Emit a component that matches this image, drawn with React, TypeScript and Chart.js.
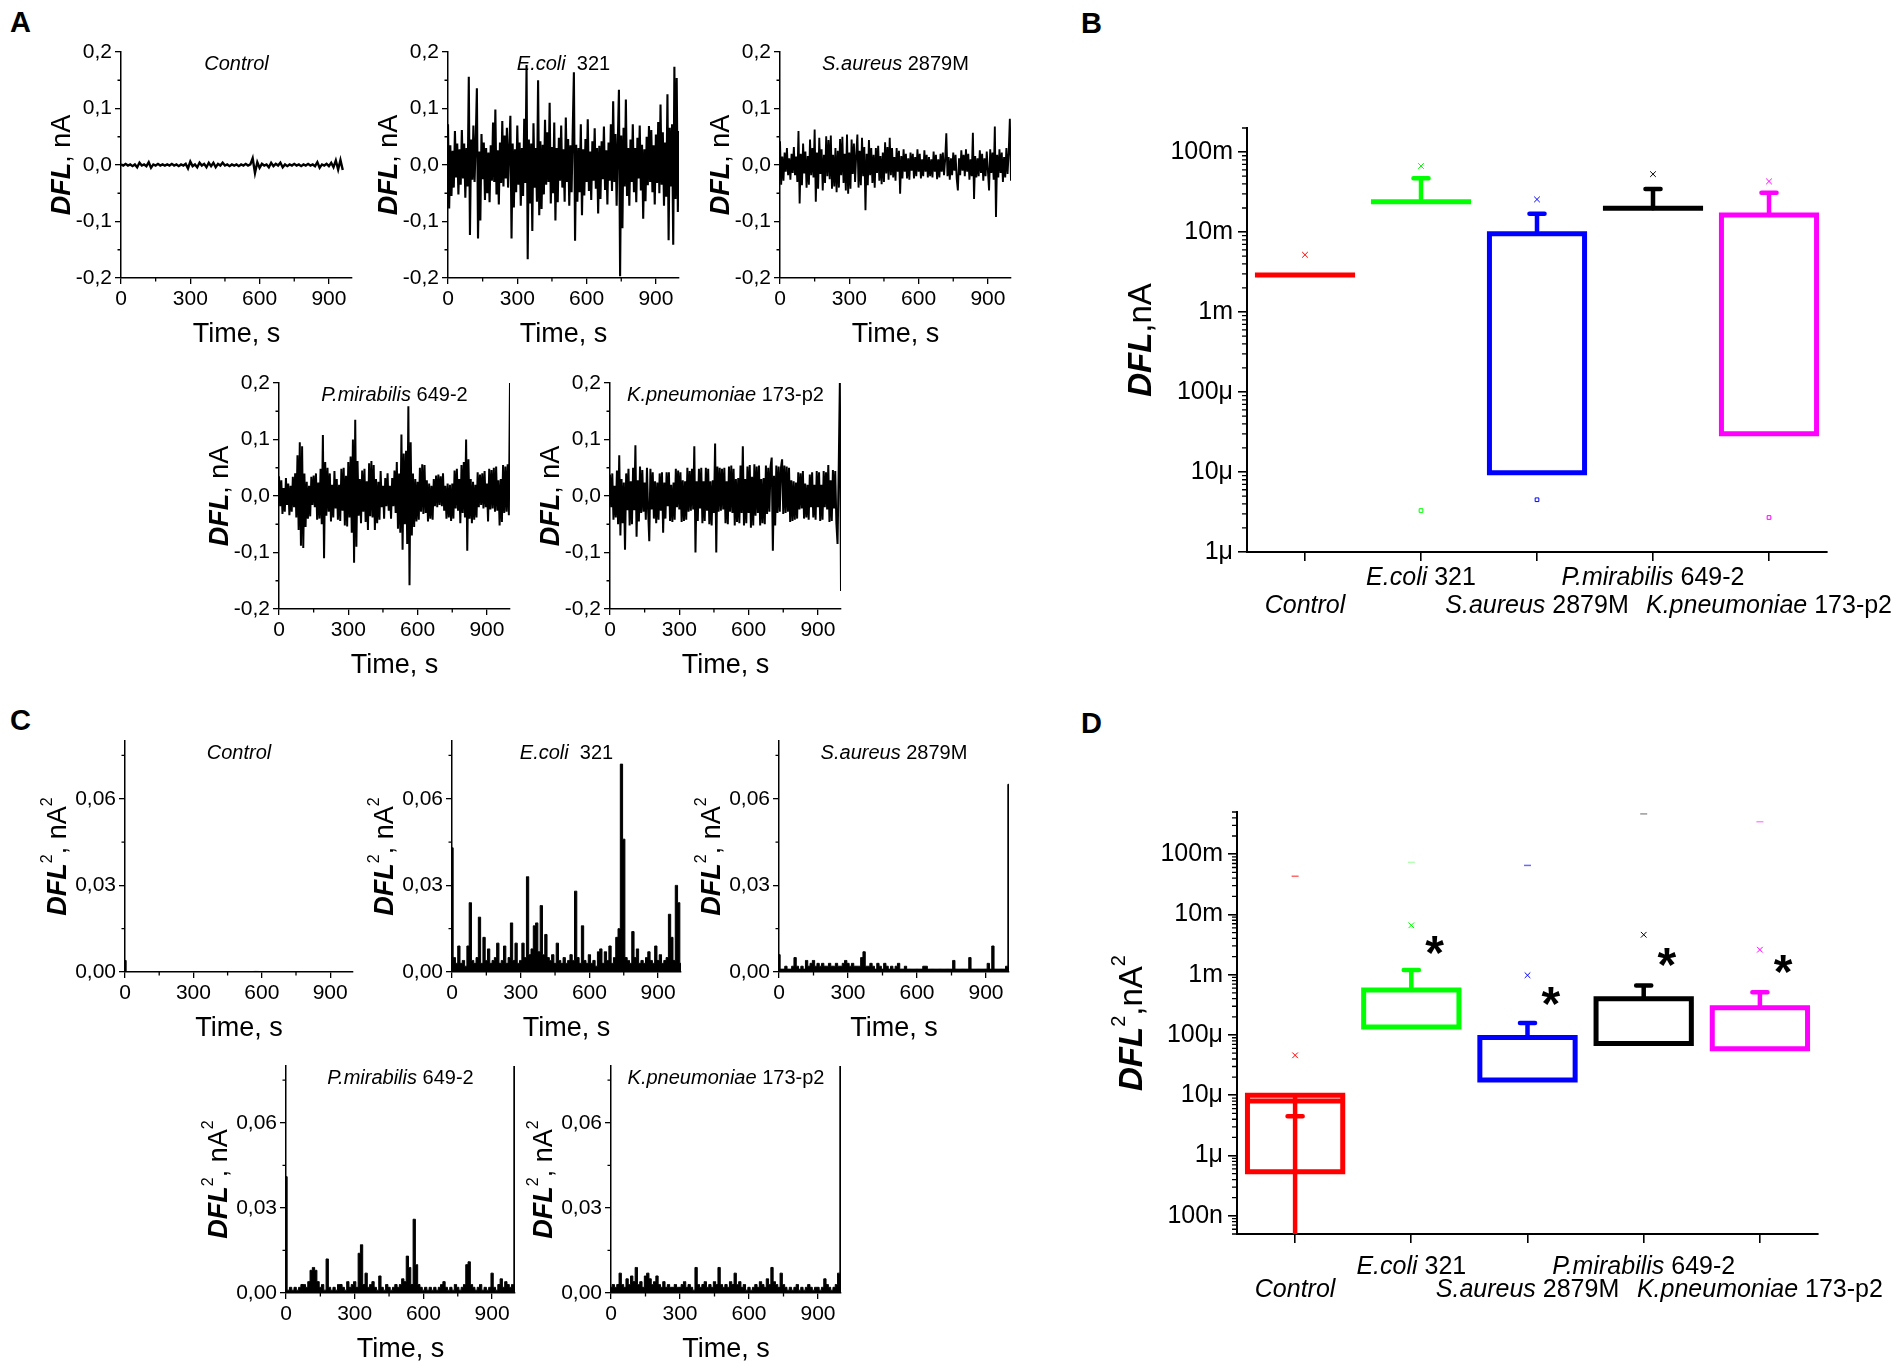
import React, { useEffect, useRef } from 'react';
import { Chart, registerables } from 'chart.js';

Chart.register(...registerables);

const FF = "'Liberation Sans', Arial, Helvetica, sans-serif";
Chart.defaults.font.family = FF;
Chart.defaults.color = '#000';

// ---------------- shared labels ----------------
const species = ['Control', 'E.coli', 'S.aureus', 'P.mirabilis', 'K.pneumoniae'];
const strains = ['', '321', '2879M', '649-2', '173-p2'];
const panelTitleStrains = ['', '  321', ' 2879M', ' 649-2', ' 173-p2'];
const timeAxisTitle = 'Time, s';
const timeTicks = [0, 300, 600, 900];
const timeTickLabels = ['0', '300', '600', '900'];
const timeMinorTicks = [150, 450, 750];

// ---------------- Panel A: DFL traces (values in 0.001 nA) ----------------
const dflTicks = [-0.2, -0.1, 0, 0.1, 0.2];
const dflTickLabels = ['-0,2', '-0,1', '0,0', '0,1', '0,2'];
const dflMinorTicks = [-0.15, -0.05, 0.05, 0.15];
const dflControlStep = 10; // s between samples
const dflStep = 5;
const dflControl = [
  1, -1, 2, -1, 1, -2, 1, -4, 4, -1,
  1, -2, 5, -5, 1, -1, 2, -1, 1, -1,
  1, -1, 2, -1, 1, -2, 1, -1, 2, -6,
  6, -2, 1, -4, 4, -1, 2, -4, 4, -2,
  4, -4, 2, -1, 4, -1, 1, -2, 1, -1,
  1, -2, 1, -1, 2, -1, 1, 12, -14, 5,
  -5, 2, -1, 1, -4, 4, -2, 2, -1, 4,
  -4, 1, -2, 1, -1, 2, -1, 1, -2, 1,
  -1, 2, -1, 1, -2, 5, -5, 1, -1, 2,
  -2, 4, -4, 8, -8, 9, -9,
];
const dflEcoli = [
  72, -77, 35, -55, 25, -40, 60, -22, 38, -52,
  28, -35, 62, -24, 38, -58, 30, -38, 156, -124,
  45, -26, 70, -30, 42, 136, -130, 24, -98, 55,
  -25, 40, -62, 30, -50, 22, -66, 35, -28, 75,
  -30, 98, -52, 26, -70, 40, -32, 78, -38, 52,
  -24, 66, -40, 30, 87, -130, 38, -75, 28, -48,
  70, -35, 40, -72, 30, -55, 82, -32, 177, -167,
  45, -68, 38, -117, 74, -40, 30, -65, 150, -89,
  42, -78, 36, -52, 80, -35, 58, -30, 110, -68,
  32, -50, 75, -98, 30, -66, 48, -28, 70, -40,
  28, -65, 84, -30, 46, -72, 35, -48, 62, 164,
  -134, 36, -65, 30, -48, 72, -89, 28, -54, 46,
  -30, 81, -46, 24, -62, 42, -28, 65, -42, 30,
  -86, 34, -60, 42, -25, 68, -44, 26, -70, 40,
  -28, 72, -46, 113, -30, 55, -72, 40, 133, -197,
  52, -112, 66, -38, 116, -55, 30, -72, 45, -30,
  72, -48, 30, -66, 48, -24, 70, -45, 36, -95,
  28, -64, 50, -36, 69, -30, 62, -48, 35, -70,
  54, -32, 76, -50, 107, -35, 58, -72, 40, -56,
  125, -133, 66, -38, 72, -141, 174, -60, 154, -83,
  60,
];
const dflSaureus = [
  42, -35, 15, -28, 22, -12, 30, -18, 12, -26,
  20, -14, 32, -18, 15, -30, 60, -68, 20, -36,
  38, -15, 24, -40, 16, -35, 45, -18, 30, -22,
  63, -65, 22, -42, 48, -16, 28, -45, 18, -32,
  51, -20, 44, -25, 52, -42, 18, -38, 30, -48,
  25, -40, 46, -18, 50, -32, 20, -45, 54, -51,
  22, -42, 45, -16, 38, -30, 18, 54, -40, 25,
  -36, 48, -20, 32, -80, 20, -36, 44, -18, 30,
  -32, 18, -40, 30, -14, 34, -28, 16, -34, 22,
  -30, 40, -15, 32, -26, 48, -18, 30, -22, 14,
  -28, 30, -12, 25, -51, 16, -24, 28, -12, 20,
  -24, 12, -26, 22, -10, 20, -24, 14, -20, 28,
  -12, 20, -24, 10, -20, 26, -12, 18, -22, 14,
  -20, 10, -22, 24, -12, 18, -25, 10, -22, 20,
  -12, 22, -18, 10, 56, -20, 14, -26, 12, -18,
  22, -10, 18, -24, -45, 12, -18, 26, -10, 18,
  -20, 28, -12, 20, -26, 10, -20, 57, -60, 16,
  -22, 12, -20, 26, -14, 20, -28, 12, -20, 24,
  -10, -45, 28, -14, 22, -26, 68, -92, 18, -22,
  28, -14, 22, -30, 14, -22, 30, -16, 22, 82,
  -28,
];
const dflPmirabilis = [
  35, -18, 28, -32, 14, -28, 32, -16, 22, -34,
  18, -28, 34, -20, 40, -38, 72, -60, 95, -88,
  88, -92, 40, -55, 25, -40, 18, -36, 34, -16,
  36, -20, 40, -42, 24, -40, 48, -50, 108, -110,
  60, -35, 50, -28, 40, -45, 20, -38, 44, -22,
  30, -42, 20, -44, 48, -26, 50, -52, 36, -54,
  60, -38, 70, -65, 100, -118, 135, -90, 62, -35,
  30, -48, 45, -28, 48, -46, 26, -60, 58, -36,
  62, -38, 55, -60, 30, -48, 25, -42, 44, -20,
  18, -40, 32, -18, 40, -26, 18, -40, 32, -18,
  45, -30, 60, -58, 40, -65, 109, -95, 75, -50,
  80, -85, 159, -158, 95, -70, 40, -55, 30, -45,
  25, -42, 50, -28, 56, -32, 55, -30, 28, -45,
  22, -40, 18, -42, 30, -18, 36, -20, 38, -16,
  35, -18, 40, -26, 18, -40, 22, -38, 20, -44,
  22, -40, 45, -22, 48, -26, 30, -48, 55, -30,
  60, -38, 100, -97, 65, -40, 30, -48, 25, -42,
  20, -38, 42, -20, 38, -16, 40, -22, 44, -20,
  22, -45, 48, -24, 46, -22, 50, -28, 52, -26,
  28, -52, 30, -46, 55, -30, 52, -28, 56, -34,
  200,
];
const dflKpneumoniae = [
  38, -20, 40, -42, 18, -38, 45, -50, 72, -70,
  30, -48, 24, -95, 40, -25, 48, -52, 26, -50,
  50, -25, 90, -72, 28, -45, 52, -30, 46, -28,
  24, -42, 50, -26, -80, 48, -24, 42, -40, 26,
  -48, 24, -42, 40, -26, 42, -65, 24, -40, 42,
  -18, 42, -44, 20, -46, 24, -42, 48, -20, 45,
  -24, 42, -46, 28, -44, 26, -42, 50, -28, 44,
  -26, 48, -24, 88, -100, 26, -44, 48, -22, 50,
  -48, 26, -44, 50, -26, 48, -50, 26, -52, 28,
  -30, 93, -100, 52, -28, 50, -26, 48, -24, 50,
  -48, 26, -50, 52, -28, 54, -30, 48, -52, 30,
  -46, 32, -48, 54, -30, 88, -52, 30, -48, 52,
  -30, 55, -56, 34, -52, 56, -35, 52, -30, 54,
  -52, 30, -48, 32, -50, 54, -32, 50, -28, 52,
  68, -97, 36, -52, 54, -30, 52, -28, 50, 65,
  -32, 54, -30, 52, -28, 50, -46, 28, -44, 26,
  -42, 24, -40, 42, -24, 40, -22, 44, -40, 22,
  -38, 20, -42, 38, -20, 42, -38, 20, -42, 44,
  -20, 42, -44, 20, -42, 44, -20, 42, -24, 55,
  -46, 28, -44, 46, -22, 44, -48, -85, 46, 200,
  -168,
];

// ---------------- Panel C: DFL^2 traces (values in 0.001 nA^2) ----------------
const dfl2Ticks = [0, 0.03, 0.06];
const dfl2TickLabels = ['0,00', '0,03', '0,06'];
const dfl2MinorTicks = [0.015, 0.045, 0.075];
const dfl2ControlStep = 10;
const dfl2Step = 10;
const dfl2Control = [
  4, 0, 0, 0, 0, 0, 0, 0, 0, 0,
  0, 0, 0, 0, 0, 0, 0, 0, 0, 0,
  0, 0, 0, 0, 0, 0, 0, 0, 0, 0.1,
  0.1, 0, 0, 0, 0, 0, 0, 0, 0, 0,
  0, 0, 0, 0, 0, 0, 0, 0, 0, 0,
  0, 0, 0, 0, 0, 0, 0, 0.2, 0.2, 0,
  0, 0, 0, 0, 0, 0, 0, 0, 0, 0,
  0, 0, 0, 0, 0, 0, 0, 0, 0, 0,
  0, 0, 0, 0, 0, 0, 0, 0, 0, 0,
  0, 0, 0, 0.1, 0.1, 0.1, 0.1,
];
const dfl2Ecoli = [
  43, 5, 3, 9, 3, 4, 2, 9, 24, 4,
  3, 5, 19, 3, 12, 4, 8, 3, 4, 5,
  10, 3, 4, 9, 3, 5, 17, 4, 10, 3,
  4, 10, 5, 33, 6, 8, 16, 17, 7, 23,
  6, 13, 5, 4, 6, 3, 10, 4, 3, 5,
  3, 4, 6, 4, 28, 5, 3, 16, 4, 3,
  6, 3, 4, 2, 7, 8, 3, 7, 4, 9,
  3, 5, 12, 15, 72, 46, 5, 4, 3, 14,
  5, 8, 3, 4, 3, 5, 7, 4, 3, 9,
  4, 6, 3, 4, 5, 20, 12, 4, 30, 24,
  3,
];
const dfl2Saureus = [
  6, 1, 1, 2, 1, 1, 2, 5, 2, 1,
  2, 1, 4, 2, 3, 4, 2, 3, 2, 3,
  2, 2, 3, 2, 2, 3, 2, 2, 3, 4,
  3, 2, 3, 2, 2, 2, 5, 7, 2, 2,
  3, 2, 1, 3, 2, 1, 3, 2, 1, 2,
  1, 2, 3, 1, 1, 2, 1, 1, 1, 1,
  1, 1, 1, 2, 2, 1, 1, 1, 1, 1,
  1, 1, 1, 1, 1, 1, 4, 1, 1, 1,
  1, 1, 1, 5, 1, 1, 1, 1, 1, 1,
  1, 3, 1, 9, 1, 1, 1, 1, 1, 2,
  65,
];
const dfl2Pmirabilis = [
  41, 1, 2, 1, 2, 1, 2, 3, 3, 2,
  4, 8, 9, 8, 4, 2, 3, 1, 12, 2,
  1, 2, 1, 3, 3, 2, 1, 4, 2, 3,
  4, 2, 14, 17, 3, 7, 2, 3, 4, 2,
  1, 6, 2, 1, 3, 2, 1, 2, 3, 2,
  3, 5, 4, 13, 9, 3, 26, 10, 3, 2,
  1, 2, 1, 2, 1, 2, 1, 2, 3, 4,
  2, 1, 2, 1, 3, 2, 1, 2, 3, 10,
  11, 3, 2, 1, 2, 3, 1, 2, 1, 2,
  7, 2, 1, 3, 5, 2, 4, 3, 2, 3,
  90,
];
const dfl2Kpneumoniae = [
  2, 3, 2, 3, 7, 3, 2, 5, 3, 6,
  4, 9, 3, 4, 2, 6, 7, 5, 3, 4,
  6, 3, 2, 4, 2, 3, 2, 2, 3, 2,
  2, 3, 4, 2, 3, 2, 1, 9, 3, 2,
  3, 4, 2, 3, 2, 4, 3, 9, 3, 2,
  3, 2, 4, 3, 7, 3, 4, 2, 3, 1,
  2, 1, 2, 3, 2, 4, 3, 2, 5, 3,
  9, 4, 3, 2, 7, 3, 2, 1, 2, 1,
  2, 3, 1, 2, 1, 2, 3, 2, 1, 2,
  2, 1, 2, 5, 3, 2, 1, 2, 3, 7,
  90,
];

// ---------------- Panels B and D: box statistics ----------------
const groupColors = ['#ff0000', '#00ff00', '#0000ff', '#000000', '#ff00ff'];
const groupPaleColors = ['#ff6a6a', '#b4ffb4', '#6a6aff', '#9a9a9a', '#ff8cff'];
const categoryRow = [1, 0, 1, 0, 1]; // 0 = upper label row, 1 = lower label row

const bTicks = [1e-6, 1e-5, 1e-4, 1e-3, 1e-2, 1e-1];
const bTickLabels = ['1μ', '10μ', '100μ', '1m', '10m', '100m'];
const bBoxLow = [2.9e-3, 24e-3, 9.8e-6, 19.8e-3, 30e-6];
const bBoxHigh = [2.9e-3, 24e-3, 9.5e-3, 19.8e-3, 16.4e-3];
const bWhiskerHigh = [null, 47e-3, 17e-3, 34.5e-3, 31e-3];
const bMaxMarker = [5.2e-3, 67e-3, 25.6e-3, 53e-3, 43e-3];
const bMinMarker = [null, 3.3e-6, 4.5e-6, null, 2.7e-6];

const dTicks = [1e-7, 1e-6, 1e-5, 1e-4, 1e-3, 1e-2, 1e-1];
const dTickLabels = ['100n', '1μ', '10μ', '100μ', '1m', '10m', '100m'];
const dBoxLow = [0.54e-6, 136e-6, 18e-6, 72e-6, 59e-6];
const dBoxHigh = [10e-6, 556e-6, 91e-6, 400e-6, 284e-6];
const dMedian = [8e-6, null, null, null, null];
const dWhiskerHigh = [null, 1.2e-3, 158e-6, 660e-6, 513e-6];
const dWhiskerLow = [3e-8, null, null, null, null];
const dMean = [4.5e-6, null, null, null, null];
const dMaxMarker = [46e-6, 6.6e-3, 0.98e-3, 4.6e-3, 2.6e-3];
const dTopDash = [43e-3, 73e-3, 65e-3, 465e-3, 345e-3];
const dAsterisk = [null, 3.1e-3, 0.44e-3, 1.95e-3, 1.5e-3];

// ---------------- drawing helpers ----------------
type Seg = { t: string; f: string; dy?: number };
const font = (size: number, italic = false, bold = false) =>
  `${italic ? 'italic ' : ''}${bold ? 'bold ' : ''}${size}px ${FF}`;

function drawSegs(ctx: CanvasRenderingContext2D, segs: Seg[], x: number, y: number, rot = 0) {
  ctx.save();
  ctx.translate(x, y);
  if (rot) ctx.rotate(rot);
  ctx.textBaseline = 'middle';
  ctx.textAlign = 'left';
  ctx.fillStyle = '#000';
  const widths = segs.map((s) => {
    ctx.font = s.f;
    return ctx.measureText(s.t).width;
  });
  const total = widths.reduce((a, b) => a + b, 0);
  let cx = -total / 2;
  segs.forEach((s, i) => {
    ctx.font = s.f;
    ctx.fillText(s.t, cx, s.dy ?? 0);
    cx += widths[i];
  });
  ctx.restore();
}

function minorTicks(chart: any, axis: 'x' | 'y', values: number[], len: number, width: number) {
  const s = chart.scales[axis];
  const a = chart.chartArea;
  const ctx = chart.ctx as CanvasRenderingContext2D;
  ctx.save();
  ctx.strokeStyle = '#000';
  ctx.lineWidth = width;
  ctx.beginPath();
  values.forEach((v) => {
    const p = s.getPixelForValue(v);
    if (axis === 'x') {
      ctx.moveTo(p, a.bottom);
      ctx.lineTo(p, a.bottom + len);
    } else {
      ctx.moveTo(a.left, p);
      ctx.lineTo(a.left - len, p);
    }
  });
  ctx.stroke();
  ctx.restore();
}

function logMinors(min: number, max: number) {
  const out: number[] = [];
  for (let d = Math.floor(Math.log10(min)); d <= Math.ceil(Math.log10(max)); d++) {
    for (let m = 2; m <= 9; m++) {
      const v = m * Math.pow(10, d);
      if (v >= min * 0.999 && v <= max * 1.001) out.push(v);
    }
  }
  return out;
}

type Box = { x: number; y: number; w: number; h: number };

function PlotCanvas({ box, make }: { box: Box; make: (c: HTMLCanvasElement) => Chart }) {
  const ref = useRef<HTMLCanvasElement | null>(null);
  useEffect(() => {
    const chart = make(ref.current as HTMLCanvasElement);
    return () => chart.destroy();
  }, []);
  return (
    <canvas
      ref={ref}
      width={box.w}
      height={box.h}
      style={{ position: 'absolute', left: box.x, top: box.y, width: box.w, height: box.h }}
    />
  );
}

// ---------------- small trace panels (A and C) ----------------
const TP = { l: 100, t: 16, r: 14, b: 76 };
type TraceSpec = {
  rect: number[];
  values: number[];
  step: number;
  unit: number;
  fill: boolean;
  lineWidth: number;
  yMin: number;
  yMax: number;
  yTicks: number[];
  yLabels: string[];
  yMinor: number[];
  title: Seg[];
  yTitle: Seg[];
  yTitleDx: number;
};

function traceBox(rect: number[]): Box {
  const [L, T, R, B] = rect;
  return { x: L - TP.l, y: T - TP.t, w: R - L + TP.l + TP.r, h: B - T + TP.t + TP.b };
}

const axisGrid = { drawOnChartArea: false, tickLength: 6, color: '#000', lineWidth: 1.3 };
const axisBorder = { display: true, color: '#000', width: 1.5 };

function makeTrace(spec: TraceSpec) {
  return (canvas: HTMLCanvasElement) => {
    const pts = spec.values.map((v, i) => ({ x: i * spec.step, y: v * spec.unit }));
    const decor = {
      id: 'traceDecor',
      afterDraw(chart: any) {
        const ctx = chart.ctx;
        const a = chart.chartArea;
        minorTicks(chart, 'x', timeMinorTicks, 3.5, 1.3);
        minorTicks(chart, 'y', spec.yMinor, 3.5, 1.3);
        drawSegs(ctx, spec.title, (a.left + a.right) / 2, a.top + 12);
        drawSegs(ctx, [{ t: timeAxisTitle, f: font(27) }], (a.left + a.right) / 2, a.bottom + 57);
        drawSegs(ctx, spec.yTitle, a.left - spec.yTitleDx, (a.top + a.bottom) / 2, -Math.PI / 2);
      },
    };
    return new Chart(canvas, {
      type: 'line',
      data: {
        datasets: [
          {
            data: pts,
            borderColor: '#000',
            backgroundColor: '#000',
            borderWidth: spec.lineWidth,
            pointRadius: 0,
            tension: 0,
            stepped: spec.fill ? 'middle' : false,
            fill: spec.fill ? 'origin' : false,
          },
        ],
      },
      options: {
        responsive: false,
        maintainAspectRatio: false,
        animation: false,
        events: [],
        layout: { padding: { top: TP.t, right: TP.r, left: 0, bottom: 0 } },
        plugins: { legend: { display: false }, tooltip: { enabled: false } },
        scales: {
          x: {
            type: 'linear',
            min: 0,
            max: 1000,
            afterBuildTicks: (s: any) => {
              s.ticks = timeTicks.map((v) => ({ value: v }));
            },
            afterFit: (s: any) => {
              s.height = TP.b;
            },
            ticks: {
              callback: (_v: any, i: number) => timeTickLabels[i],
              font: { family: FF, size: 21 },
              color: '#000',
              padding: 3,
              maxRotation: 0,
              autoSkip: false,
            },
            grid: axisGrid,
            border: axisBorder,
          },
          y: {
            type: 'linear',
            min: spec.yMin,
            max: spec.yMax,
            afterBuildTicks: (s: any) => {
              s.ticks = spec.yTicks.map((v) => ({ value: v }));
            },
            afterFit: (s: any) => {
              s.width = TP.l;
            },
            ticks: {
              callback: (_v: any, i: number) => spec.yLabels[i],
              font: { family: FF, size: 21 },
              color: '#000',
              padding: 3,
              autoSkip: false,
            },
            grid: axisGrid,
            border: axisBorder,
          },
        },
      } as any,
      plugins: [decor],
    } as any);
  };
}

const aRects = [
  [121, 52, 352, 278],
  [448, 52, 679, 278],
  [780, 52, 1011, 278],
  [279, 383, 510, 609],
  [610, 383, 841, 609],
];
const cRects = [
  [125, 741, 353, 972],
  [452, 741, 681, 972],
  [779, 741, 1009, 972],
  [286, 1066, 515, 1293],
  [611, 1066, 841, 1293],
];
const aTraces = [dflControl, dflEcoli, dflSaureus, dflPmirabilis, dflKpneumoniae];
const aSteps = [dflControlStep, dflStep, dflStep, dflStep, dflStep];
const aLineWidths = [2.4, 2.1, 1.9, 2.0, 2.0];
const cTraces = [dfl2Control, dfl2Ecoli, dfl2Saureus, dfl2Pmirabilis, dfl2Kpneumoniae];
const cSteps = [dfl2ControlStep, dfl2Step, dfl2Step, dfl2Step, dfl2Step];

const titleSegs = (i: number): Seg[] => [
  { t: species[i], f: font(20, true) },
  { t: panelTitleStrains[i], f: font(20) },
];
const dflTitle: Seg[] = [
  { t: 'DFL', f: font(27, true, true) },
  { t: ', nA', f: font(27) },
];
const dfl2Title: Seg[] = [
  { t: 'DFL', f: font(27, true, true) },
  { t: '2', f: font(16), dy: -11 },
  { t: ', nA', f: font(27) },
  { t: '2', f: font(16), dy: -11 },
];

// ---------------- box panels (B and D) ----------------
function boxDatasets(p: {
  low: number[];
  high: number[];
  median?: (number | null)[];
  whiskerHigh: (number | null)[];
  whiskerLow?: (number | null)[];
  mean?: (number | null)[];
}) {
  const hw = 0.41;
  const ch = 0.065;
  const ds: any[] = [];
  groupColors.forEach((color, i) => {
    const cx = i + 1;
    const lo = p.low[i];
    const hi = p.high[i];
    const box: any[] = [];
    if (lo === hi) {
      box.push({ x: cx - hw, y: lo }, { x: cx + hw, y: lo });
    } else {
      box.push(
        { x: cx - hw, y: lo },
        { x: cx + hw, y: lo },
        { x: cx + hw, y: hi },
        { x: cx - hw, y: hi },
        { x: cx - hw, y: lo }
      );
    }
    const med = p.median ? p.median[i] : null;
    if (med != null) box.push({ x: cx, y: null }, { x: cx - hw, y: med }, { x: cx + hw, y: med });
    ds.push({
      data: box,
      borderColor: color,
      borderWidth: 5,
      pointRadius: 0,
      borderJoinStyle: 'miter',
      borderCapStyle: 'square',
      fill: false,
      spanGaps: false,
    });
    const wk: any[] = [];
    const wh = p.whiskerHigh[i];
    if (wh != null) {
      wk.push({ x: cx, y: hi }, { x: cx, y: wh }, { x: cx, y: null }, { x: cx - ch, y: wh }, { x: cx + ch, y: wh });
    }
    const wl = p.whiskerLow ? p.whiskerLow[i] : null;
    if (wl != null) {
      if (wk.length) wk.push({ x: cx, y: null });
      wk.push({ x: cx, y: hi }, { x: cx, y: wl });
    }
    const mn = p.mean ? p.mean[i] : null;
    if (mn != null) {
      if (wk.length) wk.push({ x: cx, y: null });
      wk.push({ x: cx - ch, y: mn }, { x: cx + ch, y: mn });
    }
    if (wk.length) {
      ds.push({
        data: wk,
        borderColor: color,
        borderWidth: 4.5,
        pointRadius: 0,
        borderCapStyle: 'round',
        fill: false,
        spanGaps: false,
      });
    }
  });
  return ds;
}

function markerDataset(values: (number | null)[], style: string, radius: number, colors: string[], width = 1) {
  return {
    data: values.map((v, i) => ({ x: i + 1, y: v })),
    showLine: false,
    pointStyle: style,
    pointRadius: radius,
    pointBorderColor: colors,
    pointBackgroundColor: 'rgba(0,0,0,0)',
    pointBorderWidth: width,
  };
}

type BoxSpec = {
  rect: number[];
  box: Box;
  yMin: number;
  yMax: number;
  yTicks: number[];
  yLabels: string[];
  datasets: any[];
  rowOffsets: number[];
  yTitle: Seg[];
  yTitleDx: number;
  asterisks?: (number | null)[];
};

function makeBoxChart(spec: BoxSpec) {
  return (canvas: HTMLCanvasElement) => {
    const [L, T, R, B] = spec.rect;
    const padL = L - spec.box.x;
    const padT = T - spec.box.y;
    const padR = spec.box.x + spec.box.w - R;
    const padB = spec.box.y + spec.box.h - B;
    const minors = logMinors(spec.yMin, spec.yMax);
    const grid = { drawOnChartArea: false, tickLength: 9, color: '#000', lineWidth: 1.6 };
    const border = { display: true, color: '#000', width: 2 };
    const decor = {
      id: 'boxDecor',
      afterDraw(chart: any) {
        const ctx = chart.ctx;
        const a = chart.chartArea;
        const xs = chart.scales.x;
        const ys = chart.scales.y;
        minorTicks(chart, 'y', minors, 5, 1.3);
        species.forEach((sp, i) => {
          const segs: Seg[] = [{ t: sp, f: font(25, true) }];
          if (strains[i]) segs.push({ t: ' ' + strains[i], f: font(25) });
          drawSegs(ctx, segs, xs.getPixelForValue(i + 1), a.bottom + spec.rowOffsets[categoryRow[i]]);
        });
        drawSegs(ctx, spec.yTitle, a.left - spec.yTitleDx, (a.top + a.bottom) / 2, -Math.PI / 2);
        if (spec.asterisks) {
          spec.asterisks.forEach((v, i) => {
            if (v == null) return;
            const px = xs.getPixelForValue(i + 1.2);
            const py = ys.getPixelForValue(v);
            drawSegs(ctx, [{ t: '*', f: font(48, false, true) }], px, py + 11);
          });
        }
      },
    };
    return new Chart(canvas, {
      type: 'line',
      data: { datasets: spec.datasets },
      options: {
        responsive: false,
        maintainAspectRatio: false,
        animation: false,
        events: [],
        layout: { padding: { top: padT, right: padR, left: 0, bottom: 0 } },
        plugins: { legend: { display: false }, tooltip: { enabled: false } },
        scales: {
          x: {
            type: 'linear',
            min: 0.5,
            max: 5.5,
            afterBuildTicks: (s: any) => {
              s.ticks = species.map((_c, i) => ({ value: i + 1 }));
            },
            afterFit: (s: any) => {
              s.height = padB;
            },
            ticks: { callback: () => '', autoSkip: false },
            grid,
            border,
          },
          y: {
            type: 'logarithmic',
            min: spec.yMin,
            max: spec.yMax,
            afterBuildTicks: (s: any) => {
              s.ticks = spec.yTicks.map((v) => ({ value: v }));
            },
            afterFit: (s: any) => {
              s.width = padL;
            },
            ticks: {
              callback: (_v: any, i: number) => spec.yLabels[i],
              font: { family: FF, size: 25 },
              color: '#000',
              padding: 5,
              autoSkip: false,
            },
            grid,
            border,
          },
        },
      } as any,
      plugins: [decor],
    } as any);
  };
}

const bBox: Box = { x: 1080, y: 100, w: 824, h: 540 };
const dBox: Box = { x: 1080, y: 780, w: 824, h: 560 };

const bDatasets = [
  ...boxDatasets({ low: bBoxLow, high: bBoxHigh, whiskerHigh: bWhiskerHigh }),
  markerDataset(bMaxMarker, 'crossRot', 4, groupColors),
  markerDataset(bMinMarker, 'rect', 2.6, groupColors),
];
const dDatasets = [
  ...boxDatasets({
    low: dBoxLow,
    high: dBoxHigh,
    median: dMedian,
    whiskerHigh: dWhiskerHigh,
    whiskerLow: dWhiskerLow,
    mean: dMean,
  }),
  markerDataset(dMaxMarker, 'crossRot', 4, groupColors),
  markerDataset(dTopDash, 'line', 3.5, groupPaleColors, 1.5),
];

const bTitle: Seg[] = [
  { t: 'DFL', f: font(33, true, true) },
  { t: ',nA', f: font(33) },
];
const dTitle: Seg[] = [
  { t: 'DFL', f: font(33, true, true) },
  { t: '2', f: font(20), dy: -14 },
  { t: ',nA', f: font(33) },
  { t: '2', f: font(20), dy: -14 },
];

const panelLetters: [string, number, number][] = [
  ['A', 10, 8],
  ['B', 1081, 9],
  ['C', 10, 706],
  ['D', 1081, 709],
];

export default function App() {
  return (
    <div
      style={{
        position: 'absolute',
        left: 0,
        top: 0,
        width: 1904,
        height: 1371,
        overflow: 'hidden',
        background: '#fff',
        fontFamily: FF,
      }}
    >
      {panelLetters.map(([t, x, y]) => (
        <div
          key={t}
          style={{ position: 'absolute', left: x, top: y, font: `bold 29px ${FF}`, lineHeight: '29px', color: '#000' }}
        >
          {t}
        </div>
      ))}
      {aRects.map((r, i) => (
        <PlotCanvas
          key={'a' + i}
          box={traceBox(r)}
          make={makeTrace({
            rect: r,
            values: aTraces[i],
            step: aSteps[i],
            unit: 0.001,
            fill: false,
            lineWidth: aLineWidths[i],
            yMin: -0.2,
            yMax: 0.2,
            yTicks: dflTicks,
            yLabels: dflTickLabels,
            yMinor: dflMinorTicks,
            title: titleSegs(i),
            yTitle: dflTitle,
            yTitleDx: 58,
          })}
        />
      ))}
      {cRects.map((r, i) => (
        <PlotCanvas
          key={'c' + i}
          box={traceBox(r)}
          make={makeTrace({
            rect: r,
            values: cTraces[i],
            step: cSteps[i],
            unit: 0.001,
            fill: true,
            lineWidth: 1,
            yMin: 0,
            yMax: 0.08,
            yTicks: dfl2Ticks,
            yLabels: dfl2TickLabels,
            yMinor: dfl2MinorTicks,
            title: titleSegs(i),
            yTitle: dfl2Title,
            yTitleDx: 66,
          })}
        />
      ))}
      <PlotCanvas
        box={bBox}
        make={makeBoxChart({
          rect: [1247, 128, 1827, 552],
          box: bBox,
          yMin: 1e-6,
          yMax: 0.2,
          yTicks: bTicks,
          yLabels: bTickLabels,
          datasets: bDatasets,
          rowOffsets: [26, 54],
          yTitle: bTitle,
          yTitleDx: 105,
        })}
      />
      <PlotCanvas
        box={dBox}
        make={makeBoxChart({
          rect: [1237, 812, 1818, 1234],
          box: dBox,
          yMin: 5e-8,
          yMax: 0.5,
          yTicks: dTicks,
          yLabels: dTickLabels,
          datasets: dDatasets,
          rowOffsets: [33, 56],
          yTitle: dTitle,
          yTitleDx: 104,
          asterisks: dAsterisk,
        })}
      />
    </div>
  );
}
